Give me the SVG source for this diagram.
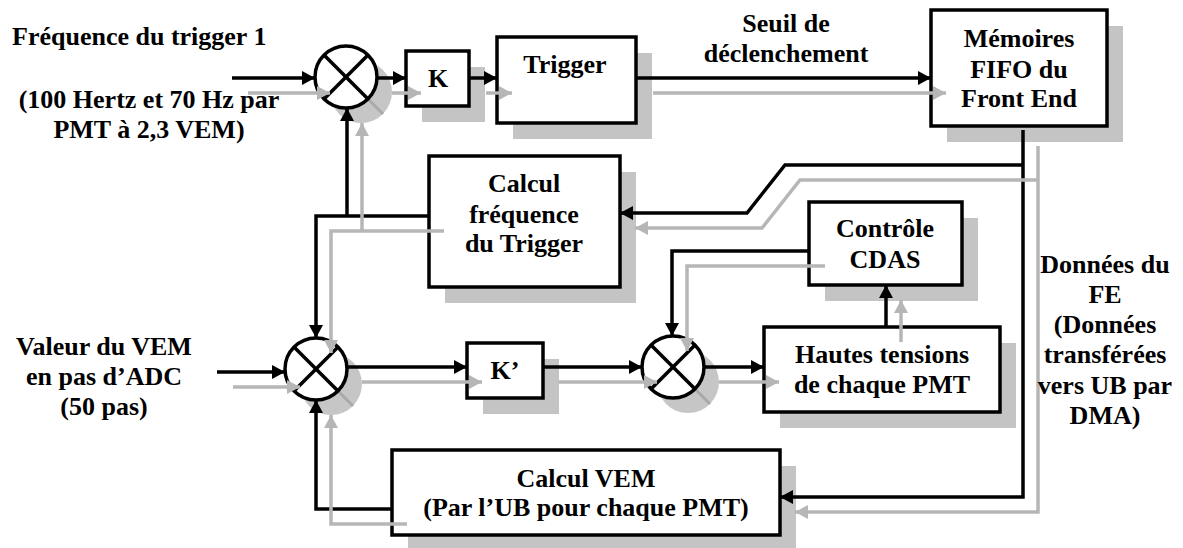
<svg xmlns="http://www.w3.org/2000/svg" width="1183" height="548" viewBox="0 0 1183 548">
<defs>
<style>
.box{fill:#fff;stroke:#000;stroke-width:3.5}
.shd{fill:#c4c4c4}
.sum{fill:#fff;stroke:#000;stroke-width:3.5}
.sumsh{fill:#c6c6c6}
.x{stroke:#000;stroke-width:3.5}
.xs{stroke:#a9a9a9;stroke-width:3}
.ln{fill:none;stroke:#000;stroke-width:3.5}
.sl{fill:none;stroke:#b6b6b6;stroke-width:3.5}
.ln.a{marker-end:url(#ah)}
.sl.a{marker-end:url(#ahs)}
.t{font-family:'Liberation Serif','Times New Roman',Times,serif;font-weight:bold;font-size:26px;fill:#000;text-anchor:middle}
</style>
<marker id="ah" markerUnits="userSpaceOnUse" markerWidth="14" markerHeight="14" refX="13" refY="7" orient="auto"><path d="M0,0 L13,7 L0,14 z" fill="#000"/></marker>
<marker id="ahs" markerUnits="userSpaceOnUse" markerWidth="14" markerHeight="14" refX="13" refY="7" orient="auto"><path d="M0,0 L13,7 L0,14 z" fill="#b6b6b6"/></marker>
</defs>
<rect width="1183" height="548" fill="#fff"/>

<g id="shadows">
<rect class="shd" x="422" y="67" width="63" height="55"/>
<rect class="shd" x="513" y="53" width="139" height="86"/>
<rect class="shd" x="947" y="26" width="176" height="116"/>
<rect class="shd" x="445" y="172" width="191" height="131"/>
<rect class="shd" x="825" y="218" width="153" height="83"/>
<rect class="shd" x="780" y="343" width="236" height="85"/>
<rect class="shd" x="483" y="359" width="76" height="55"/>
<rect class="shd" x="408" y="466" width="388" height="85"/>
<circle class="sumsh" cx="361" cy="92" r="31"/>
<line class="xs" x1="361" y1="92" x2="383" y2="114"/>
<circle class="sumsh" cx="331" cy="384" r="31"/>
<line class="xs" x1="331" y1="384" x2="353" y2="406"/>
<circle class="sumsh" cx="688" cy="382" r="31"/>
<line class="xs" x1="688" y1="382" x2="710" y2="404"/>
</g>

<g id="sum1"><circle class="sum" cx="346" cy="77" r="31"/><line class="x" x1="324" y1="55" x2="368" y2="99"/><line class="x" x1="368" y1="55" x2="324" y2="99"/></g>
<g id="sum2"><circle class="sum" cx="316" cy="369" r="31"/><line class="x" x1="294" y1="347" x2="338" y2="391"/><line class="x" x1="338" y1="347" x2="294" y2="391"/></g>
<g id="sum3"><circle class="sum" cx="673" cy="367" r="31"/><line class="x" x1="651" y1="345" x2="695" y2="389"/><line class="x" x1="695" y1="345" x2="651" y2="389"/></g>

<g id="k"><rect class="box" x="406" y="51" width="63" height="55"/><text class="t" x="438" y="87">K</text></g>
<g id="trigger"><rect class="box" x="497" y="37" width="139" height="86"/><text class="t" x="565" y="73">Trigger</text></g>
<g id="fifo"><rect class="box" x="931" y="10" width="176" height="116"/><text class="t" x="1019" y="47">Mémoires</text><text class="t" x="1019" y="78">FIFO du</text><text class="t" x="1019" y="107">Front End</text></g>
<g id="calcfreq"><rect class="box" x="429" y="156" width="191" height="131"/><text class="t" x="524" y="192">Calcul</text><text class="t" x="524" y="223">fréquence</text><text class="t" x="524" y="252">du Trigger</text></g>
<g id="cdas"><rect class="box" x="809" y="202" width="153" height="83"/><text class="t" x="885" y="237">Contrôle</text><text class="t" x="885" y="268">CDAS</text></g>
<g id="ht"><rect class="box" x="764" y="327" width="236" height="85"/><text class="t" x="882" y="363">Hautes tensions</text><text class="t" x="882" y="393">de chaque PMT</text></g>
<g id="kp"><rect class="box" x="467" y="343" width="76" height="55"/><text class="t" x="505" y="379">K’</text></g>
<g id="calcvem"><rect class="box" x="392" y="450" width="388" height="85"/><text class="t" x="586" y="487">Calcul VEM</text><text class="t" x="586" y="516">(Par l’UB pour chaque PMT)</text></g>

<g id="connectors">
<path class="ln a" d="M232,78 H315"/>
<path class="ln a" d="M377,78 H406"/>
<path class="ln a" d="M469,78 H497"/>
<path class="ln a" d="M636,78 H931"/>
<path class="ln a" d="M1023,130 V497 H780"/>
<path class="ln a" d="M1023,165 H785 L747,213 H620"/>
<path class="ln a" d="M429,216 H316 V338"/>
<path class="ln a" d="M347,216 V108"/>
<path class="ln a" d="M217,372 H285"/>
<path class="ln a" d="M347,367 H467"/>
<path class="ln a" d="M543,367 H642"/>
<path class="ln a" d="M704,367 H764"/>
<path class="ln a" d="M886,327 V285"/>
<path class="ln a" d="M809,251 H672 V336"/>
<path class="ln a" d="M392,509 H316 V400"/>
<path class="sl a" d="M248,93 H330"/>
<path class="sl a" d="M392,93 H421"/>
<path class="sl a" d="M486,93 H512"/>
<path class="sl a" d="M653,93 H946"/>
<path class="sl a" d="M1038,146 V512 H795"/>
<path class="sl" d="M1038,180 H800 L762,228 H650"/>
<path class="sl a" d="M650,228 H635"/>
<path class="sl a" d="M444,231 H331 V353"/>
<path class="sl a" d="M362,231 V123"/>
<path class="sl a" d="M233,387 H300"/>
<path class="sl a" d="M362,382 H482"/>
<path class="sl a" d="M559,382 H657"/>
<path class="sl a" d="M719,382 H779"/>
<path class="sl a" d="M901,342 V300"/>
<path class="sl a" d="M825,266 H687 V351"/>
<path class="sl a" d="M407,524 H331 V415"/>
</g>

<g id="labels">
<text class="t" x="12" y="45" style="text-anchor:start">Fréquence du trigger 1</text>
<text class="t" x="149" y="108">(100 Hertz et 70 Hz par</text>
<text class="t" x="149" y="138">PMT à 2,3 VEM)</text>
<text class="t" x="786" y="32">Seuil de</text>
<text class="t" x="786" y="62">déclenchement</text>
<text class="t" x="104" y="355">Valeur du VEM</text>
<text class="t" x="104" y="385">en pas d’ADC</text>
<text class="t" x="104" y="415">(50 pas)</text>
<text class="t" x="1105" y="273">Données du</text>
<text class="t" x="1105" y="303">FE</text>
<text class="t" x="1105" y="333">(Données</text>
<text class="t" x="1105" y="363">transférées</text>
<text class="t" x="1105" y="394">vers UB par</text>
<text class="t" x="1105" y="424">DMA)</text>
</g>
</svg>
